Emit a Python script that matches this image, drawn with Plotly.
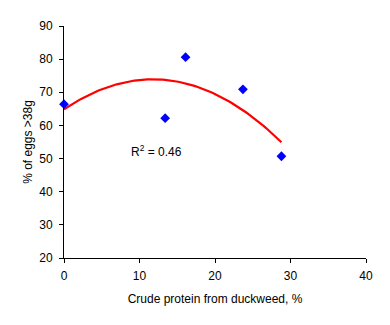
import numpy as np
import plotly.graph_objects as go

# Data
protein = [0, 13.4, 16.1, 23.7, 28.8]
eggs_pct = [66.4, 62.2, 80.6, 70.9, 50.7]
r2_label = "R<sup>2</sup> = 0.46"
x_ticks = [0, 10, 20, 30, 40]
y_ticks = [20, 30, 40, 50, 60, 70, 80, 90]

# Polynomial (order 2) trendline fitted to the data, as in the original
coef = np.polyfit(protein, eggs_pct, 2)
xt = np.linspace(min(protein), max(protein), 100)
yt = np.polyval(coef, xt)

FONT = "Liberation Sans, Arial, sans-serif"

fig = go.Figure()
fig.add_trace(go.Scatter(x=xt, y=yt, mode="lines",
                         line=dict(color="#FF0000", width=2.2),
                         hoverinfo="skip", cliponaxis=False))
fig.add_trace(go.Scatter(x=protein, y=eggs_pct, mode="markers",
                         marker=dict(symbol="diamond", size=7.5, color="#0000FF"),
                         cliponaxis=False))

fig.add_annotation(x=12.2, y=52.4, xref="x", yref="y", text=r2_label,
                   showarrow=False, font=dict(family=FONT, size=12, color="black"))

fig.update_layout(
    width=390, height=325,
    margin=dict(l=64, r=24, t=26, b=67),
    paper_bgcolor="white", plot_bgcolor="white",
    showlegend=False,
    font=dict(family=FONT, size=12, color="black"),
)
fig.update_xaxes(range=[0, 40], tickvals=x_ticks, showgrid=False, zeroline=False,
                 showline=True, linecolor="black", linewidth=1,
                 ticks="outside", ticklen=4, tickcolor="black",
                 ticklabelstandoff=3,
                 tickfont=dict(family=FONT, size=12),
                 title=dict(text="Crude protein from duckweed, %",
                            font=dict(family=FONT, size=12), standoff=12))
fig.update_yaxes(range=[20, 90], tickvals=y_ticks, showgrid=False, zeroline=False,
                 showline=True, linecolor="black", linewidth=1,
                 ticks="outside", ticklen=4, tickcolor="black",
                 ticklabelstandoff=4,
                 tickfont=dict(family=FONT, size=12),
                 title=dict(text="% of eggs >38g",
                            font=dict(family=FONT, size=12), standoff=4))

fig.write_html("out.html")
